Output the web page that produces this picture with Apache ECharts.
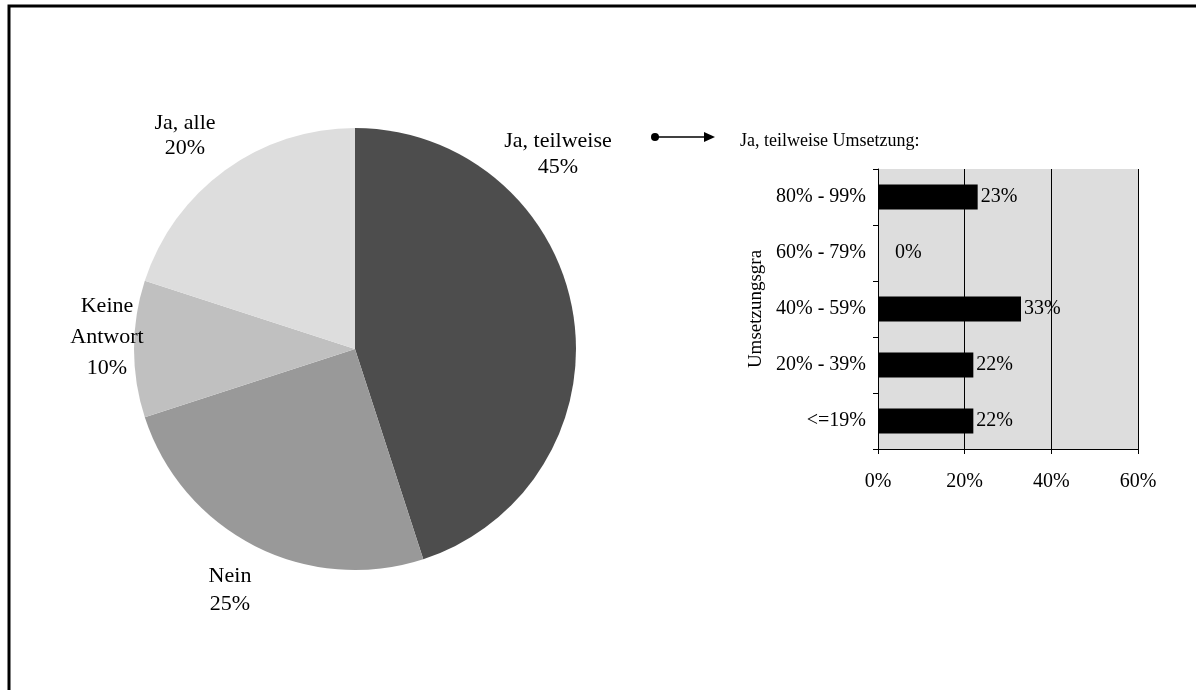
<!DOCTYPE html>
<html>
<head>
<meta charset="utf-8">
<script src="https://cdn.jsdelivr.net/npm/echarts@6/dist/echarts.min.js"></script>
<style>
  html, body { margin: 0; padding: 0; background: #ffffff; }
  #chart { width: 1196px; height: 690px; }
</style>
</head>
<body>
<div id="chart"></div>
<script>
// Pie: answers on whether the measures were implemented
const answerNames = ['Ja, teilweise', 'Nein', 'Keine\nAntwort', 'Ja, alle'];
const answerShares = [45, 25, 10, 20];
const answerColors = ['#4d4d4d', '#999999', '#c0c0c0', '#dddddd'];

// Bars: degree of implementation among the partial answers (top to bottom)
const degreeLabels = ['80% - 99%', '60% - 79%', '40% - 59%', '20% - 39%', '<=19%'];
const degreeShares = [23, 0, 33, 22, 22];
const axisTicks = [0, 20, 40, 60];

const FONT = '"Liberation Serif", "DejaVu Serif", serif';

// Where each pie label sits, by slice index
const pieLabelSpots = [
  { x: 558, y: 154, lh: 26 },
  { x: 230, y: 590, lh: 28 },
  { x: 107, y: 337, lh: 31 },
  { x: 185, y: 136, lh: 25 }
];

const chart = echarts.init(document.getElementById('chart'), null, { renderer: 'canvas' });

const option = {
  backgroundColor: '#ffffff',
  animation: false,
  textStyle: { fontFamily: FONT, color: '#000' },
  title: {
    text: 'Ja, teilweise Umsetzung:',
    left: 735,
    top: 127,
    textStyle: { fontFamily: FONT, fontSize: 18, fontWeight: 'normal', color: '#000' }
  },
  grid: {
    left: 878, right: 58, top: 169, bottom: 241,
    show: true, backgroundColor: '#dddddd', borderWidth: 0
  },
  xAxis: {
    type: 'value',
    min: axisTicks[0],
    max: axisTicks[axisTicks.length - 1],
    interval: axisTicks[1] - axisTicks[0],
    axisLine: { show: true, lineStyle: { color: '#000', width: 1 } },
    axisTick: { show: true, inside: false, length: 5, lineStyle: { color: '#000' } },
    axisLabel: { formatter: '{value}%', fontFamily: FONT, fontSize: 20, color: '#000', margin: 23 },
    splitLine: { show: true, showMinLine: false, lineStyle: { color: '#000', width: 1 } }
  },
  yAxis: {
    type: 'category',
    inverse: true,
    data: degreeLabels,
    name: 'Umsetzungsgra',
    nameLocation: 'middle',
    nameRotate: 90,
    nameGap: 112,
    nameTextStyle: { fontFamily: FONT, fontSize: 19, color: '#000' },
    axisLine: { show: true, lineStyle: { color: '#000', width: 1 } },
    axisTick: { show: true, inside: false, length: 5, lineStyle: { color: '#000' } },
    axisLabel: { fontFamily: FONT, fontSize: 20, color: '#000', margin: 12 },
    splitLine: { show: false }
  },
  series: [
    {
      type: 'pie',
      center: [355, 349],
      radius: [0, 221],
      startAngle: 90,
      clockwise: true,
      avoidLabelOverlap: false,
      itemStyle: { borderWidth: 0 },
      label: {
        show: true,
        formatter: '{b}\n{c}%',
        fontFamily: FONT,
        fontSize: 22,
        color: '#000',
        align: 'center'
      },
      labelLine: { show: false },
      labelLayout: function (params) {
        const s = pieLabelSpots[params.dataIndex];
        return { x: s.x, y: s.y, align: 'center', verticalAlign: 'middle' };
      },
      emphasis: { disabled: true },
      data: answerNames.map(function (n, i) {
        return {
          name: n,
          value: answerShares[i],
          itemStyle: { color: answerColors[i] },
          label: { lineHeight: pieLabelSpots[i].lh }
        };
      })
    },
    {
      type: 'bar',
      barWidth: '45%',
      itemStyle: { color: '#000000' },
      label: {
        show: true,
        position: 'right',
        distance: 3,
        formatter: '{c}%',
        fontFamily: FONT,
        fontSize: 20,
        color: '#000'
      },
      emphasis: { disabled: true },
      data: degreeShares.map(function (v) {
        return v === 0 ? { value: v, label: { distance: 17 } } : v;
      })
    }
  ],
  graphic: [
    {
      type: 'rect',
      silent: true,
      shape: { x: 9, y: 6, width: 1400, height: 1000 },
      style: { fill: 'none', stroke: '#000', lineWidth: 3 }
    },
    {
      type: 'group',
      silent: true,
      children: [
        { type: 'circle', shape: { cx: 655, cy: 137, r: 4 }, style: { fill: '#000' } },
        { type: 'line', shape: { x1: 655, y1: 137, x2: 707, y2: 137 }, style: { stroke: '#000', lineWidth: 1.5 } },
        { type: 'polygon', shape: { points: [[704, 132], [715, 137], [704, 142]] }, style: { fill: '#000' } }
      ]
    }
  ]
};

chart.setOption(option);
</script>
</body>
</html>
